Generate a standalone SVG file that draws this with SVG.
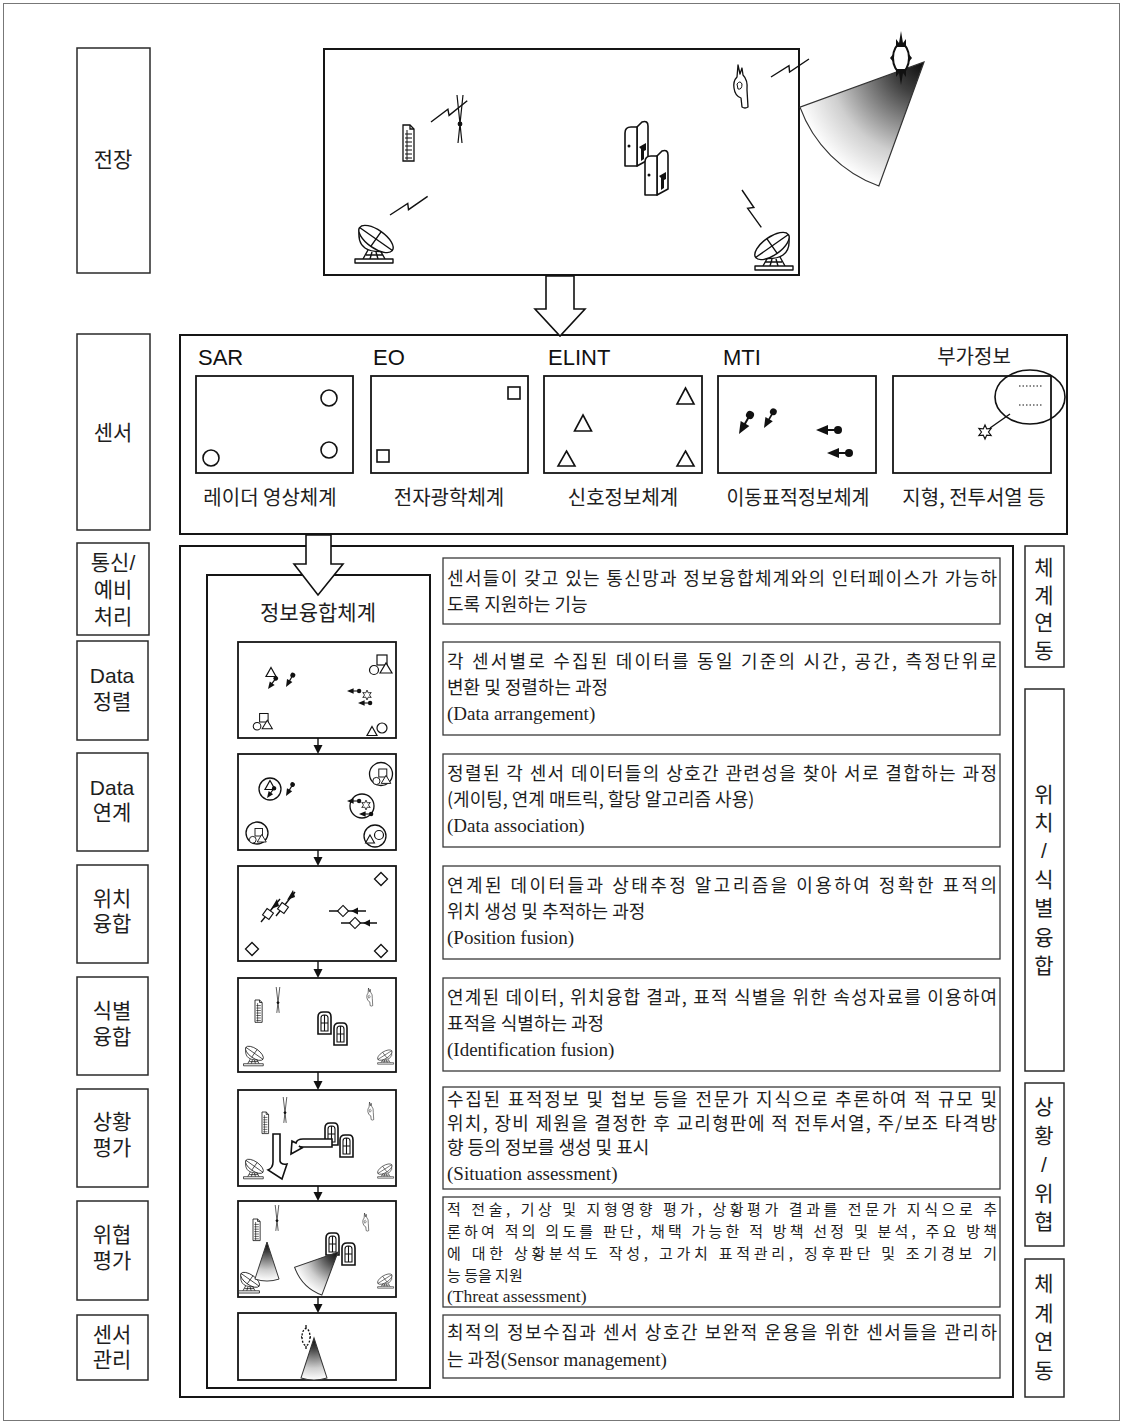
<svg xmlns="http://www.w3.org/2000/svg" width="1123" height="1425" viewBox="0 0 1123 1425">
<style>
  .page{fill:#fff;stroke:#777;stroke-width:1}
  .frame{fill:none;stroke:#151515;stroke-width:2}
  .box{fill:#fff;stroke:#151515;stroke-width:1.8}
  .tbox{fill:#fff;stroke:#3a3a3a;stroke-width:1.3}
  .side{fill:#fff;stroke:#2a2a2a;stroke-width:1.5}
  .lbl{font-family:"Liberation Sans","Noto Sans CJK KR",sans-serif;font-size:21px;fill:#1e1e1e;text-anchor:middle}
  .sn{font-family:"Liberation Sans","Noto Sans CJK KR",sans-serif;font-size:22px;fill:#111}
  .cap{font-family:"Noto Sans CJK KR",sans-serif;font-size:20px;fill:#1e1e1e;text-anchor:middle}
  .kr{font-family:"Noto Sans CJK KR",sans-serif;font-size:18px;fill:#1e1e1e}
  .kr.tight{font-size:15px}
  .en{font-family:"Liberation Serif",serif;font-size:19px;fill:#1e1e1e}
  .en.tight{font-size:17.5px}
  .ln{fill:none;stroke:#111;stroke-width:1.4;stroke-linejoin:round}
  .hollow{fill:#fff;stroke:#111;stroke-width:1.6;stroke-linejoin:miter}
  .blk{fill:#111;stroke:none}
</style>
<defs>
  <radialGradient id="fanGrad" gradientUnits="userSpaceOnUse" cx="0" cy="0" r="100">
    <stop offset="0" stop-color="#0a0a0a"/>
    <stop offset="0.25" stop-color="#404040"/>
    <stop offset="0.72" stop-color="#cfcfcf"/>
    <stop offset="1" stop-color="#fff"/>
  </radialGradient>
  <!-- beam fans, apex at origin, opening towards +y, radius 100 -->
  <path id="fanWide" d="M0,0 L42.26,90.63 A100,100 0 0 1 -42.26,90.63 Z"/>
  <path id="fanNarrow" d="M0,0 L30.9,95.1 A100,100 0 0 1 -30.9,95.1 Z"/>
  <!-- zigzag radio link -->
  <path id="bolt" d="M0,0 L21,-3 L19,3 L42,-1" fill="none" stroke="#111" stroke-width="1.4"/>
  <!-- document / report -->
  <g id="doc" fill="#fff" stroke="#111" stroke-width="1.3">
    <path d="M0,0 H7 L11,4 V36 H0 Z"/>
    <path d="M7,0 V4 H11" fill="none"/>
    <path d="M2,9 H9 M2,13 H9 M2,17 H9 M2,21 H9 M2,25 H9 M2,29 H9 M2,33 H9 M4,5 V35" fill="none" stroke-width="1"/>
  </g>
  <!-- antenna mast -->
  <g id="mast" fill="none" stroke="#111" stroke-width="1.2">
    <path d="M-3,0 L2,48 M3,0 L-2,48"/>
    <circle cx="0" cy="29" r="1.8" fill="#111"/>
  </g>
  <!-- shelter -->
  <g id="shelter" stroke="#111" stroke-width="1.6" stroke-linejoin="round">
    <path d="M12,46 V7 L17,2 Q23,0 23,6 V40 Z" fill="#fff"/>
    <path d="M0,46 V13 Q0,7 6,7 H12 V46 Z" fill="#fff"/>
    <circle cx="4" cy="26" r="1.5" class="blk"/>
    <path d="M14,27 L21,23 V30 L19,31 V39 L16,41 V29 Z" class="blk"/>
  </g>
  <!-- shelter, small view -->
  <g id="win" stroke="#111" stroke-width="1.6" fill="#fff">
    <path d="M0,22 V5 Q0,0 5,0 H9 Q13,0 13,5 V22 Z"/>
    <path d="M3,19 V6 Q3,3 6,3 H7 Q10,3 10,6 V19 Z M6.5,3 V19 M3,11 H10" fill="none" stroke-width="1.1"/>
  </g>
  <!-- observer -->
  <g id="hand" fill="#fff" stroke="#111" stroke-width="1.3" stroke-linejoin="round">
    <path d="M6,0 L8,9 L10,3 L11,10 Q16,15 15,25 L16,42 Q13,44 10,42 L9,33 Q3,31 2,23 Q1,16 5,12 Z"/>
    <path d="M5,19 Q8,15 10,19 Q10,25 6,24 Z" fill="none" stroke-width="1"/>
  </g>
  <!-- ground station dish, facing upper right -->
  <g id="dish" fill="none" stroke="#111" stroke-width="1.4" stroke-linejoin="round">
    <path d="M14,27 L9,36 M18,29 L16,36 M22,29 L24,36 M26,27 L31,36 M12,32 H29"/>
    <path d="M5.6,4.5 Q0,34 38.4,27.5" fill="#fff"/>
    <ellipse cx="22" cy="16" rx="20" ry="9" transform="rotate(35 22 16)" fill="#fff"/>
    <path d="M5.6,4.5 L38.4,27.5 M16.8,23.4 L27.2,8.6"/>
    <rect x="1" y="36" width="38" height="4" fill="#fff"/>
  </g>
  <!-- satellite -->
  <g id="sat">
    <ellipse cx="0" cy="0" rx="8" ry="14" fill="#fff" stroke="#111" stroke-width="2"/>
    <path d="M-5,-11 L-5,-19 L-2,-15 L0,-27 L2,-15 L5,-19 L5,-11 Z" class="blk"/>
    <path d="M-5,11 L-5,19 L-2,15 L0,27 L2,15 L5,19 L5,11 Z" class="blk"/>
    <path d="M-7,-5 L-11,0 L-7,5 Z M7,-5 L11,0 L7,5 Z" class="blk"/>
  </g>
  <!-- track symbol: heading arrow with target dot -->
  <g id="tgt">
    <path d="M0,0 L12,-5 L12,5 Z" class="blk"/>
    <path d="M11,0 H19" stroke="#111" stroke-width="2"/>
    <circle cx="22" cy="0" r="4" class="blk"/>
  </g>
  <path id="star" d="M0,-7 L1.75,-3.03 L6.06,-3.5 L3.5,0 L6.06,3.5 L1.75,3.03 L0,7 L-1.75,3.03 L-6.06,3.5 L-3.5,0 L-6.06,-3.5 L-1.75,-3.03 Z" fill="#fff" stroke="#111" stroke-width="1.2"/>
  <path id="tri" d="M0,-4.5 L5,4.5 L-5,4.5 Z" fill="#fff" stroke="#111" stroke-width="1.2"/>
  <path id="dia" d="M0,-6.5 L6.5,0 L0,6.5 L-6.5,0 Z" fill="#fff" stroke="#111" stroke-width="1.3"/>
  <!-- fused plot: square, circle, triangle -->
  <g id="combo" fill="#fff" stroke="#111" stroke-width="1.2">
    <rect x="-4" y="-10" width="10" height="10"/>
    <circle cx="-7" cy="5" r="4.5"/>
    <path d="M-1,8 L5,-2 L11,8 Z"/>
  </g>
</defs>

<rect class="page" x="3.5" y="3.5" width="1116" height="1417"/>

<!-- stage labels, left column -->
<g id="stage-labels">
  <g id="lbl-battlefield"><rect class="side" x="77" y="48" width="73" height="225"/><text class="lbl" x="113" y="167">전장</text></g>
  <g id="lbl-sensor"><rect class="side" x="77" y="334" width="73" height="196"/><text class="lbl" x="113" y="440">센서</text></g>
  <g id="lbl-comm"><rect class="side" x="77" y="543" width="72" height="92"/><text class="lbl" x="113" y="570">통신/</text><text class="lbl" x="113" y="597">예비</text><text class="lbl" x="113" y="624">처리</text></g>
  <g id="lbl-align"><rect class="side" x="77" y="641" width="71" height="99"/><text class="lbl" x="112" y="683">Data</text><text class="lbl" x="112" y="709">정렬</text></g>
  <g id="lbl-assoc"><rect class="side" x="77" y="753" width="71" height="98"/><text class="lbl" x="112" y="795">Data</text><text class="lbl" x="112" y="820">연계</text></g>
  <g id="lbl-pos"><rect class="side" x="77" y="865" width="71" height="98"/><text class="lbl" x="112" y="906">위치</text><text class="lbl" x="112" y="931">융합</text></g>
  <g id="lbl-ident"><rect class="side" x="77" y="977" width="71" height="98"/><text class="lbl" x="112" y="1018">식별</text><text class="lbl" x="112" y="1044">융합</text></g>
  <g id="lbl-situ"><rect class="side" x="77" y="1089" width="71" height="98"/><text class="lbl" x="112" y="1129">상황</text><text class="lbl" x="112" y="1155">평가</text></g>
  <g id="lbl-threat"><rect class="side" x="77" y="1201" width="71" height="99"/><text class="lbl" x="112" y="1242">위협</text><text class="lbl" x="112" y="1268">평가</text></g>
  <g id="lbl-sensmgmt"><rect class="side" x="77" y="1315" width="71" height="65"/><text class="lbl" x="112" y="1342">센서</text><text class="lbl" x="112" y="1367">관리</text></g>
</g>

<!-- battlefield scene -->
<g id="battlefield">
  <rect class="frame" x="324" y="49" width="475" height="226" fill="#fff"/>
  <use href="#doc" x="403" y="125"/>
  <use href="#mast" x="460" y="95"/>
  <use href="#bolt" transform="translate(431,122) rotate(-29)"/>
  <use href="#shelter" x="625" y="120"/>
  <use href="#shelter" x="645" y="149"/>
  <use href="#hand" x="732" y="65"/>
  <use href="#bolt" transform="translate(771,77) rotate(-24)"/>
  <use href="#bolt" transform="translate(390,215) rotate(-25)"/>
  <use href="#bolt" transform="translate(742,190) rotate(64)"/>
  <use href="#dish" transform="translate(354,223)"/>
  <use href="#dish" transform="translate(794,230) scale(-1,1)"/>
  <use href="#fanWide" transform="translate(924,62) rotate(45) scale(1.32)" fill="url(#fanGrad)" stroke="#333" stroke-width="0.9"/>
  <use href="#sat" x="901" y="58"/>
</g>

<!-- sensor systems -->
<g id="sensors">
  <rect class="frame" x="180" y="335" width="887" height="199"/>
  <g id="sensor-sar">
    <text class="sn" x="198" y="365">SAR</text>
    <rect class="box" x="196" y="376" width="157" height="97"/>
    <g fill="none" stroke="#111" stroke-width="1.6"><circle cx="329" cy="398" r="8"/><circle cx="329" cy="450" r="8"/><circle cx="211" cy="458" r="8"/></g>
    <text class="cap" x="270" y="505">레이더 영상체계</text>
  </g>
  <g id="sensor-eo">
    <text class="sn" x="373" y="365">EO</text>
    <rect class="box" x="371" y="376" width="157" height="97"/>
    <g fill="none" stroke="#111" stroke-width="1.6"><rect x="508" y="387" width="12" height="12"/><rect x="377" y="450" width="12" height="12"/></g>
    <text class="cap" x="449" y="505">전자광학체계</text>
  </g>
  <g id="sensor-elint">
    <text class="sn" x="548" y="365">ELINT</text>
    <rect class="box" x="544" y="376" width="158" height="97"/>
    <g fill="none" stroke="#111" stroke-width="1.6"><path d="M685.5,388 L694,404 L677,404 Z"/><path d="M583,415 L591.5,431 L574.5,431 Z"/><path d="M566.5,451 L575,466 L558,466 Z"/><path d="M685.5,451 L694,466 L677,466 Z"/></g>
    <text class="cap" x="623" y="505">신호정보체계</text>
  </g>
  <g id="sensor-mti">
    <text class="sn" x="723" y="365">MTI</text>
    <rect class="box" x="718" y="376" width="158" height="97"/>
    <use href="#tgt" transform="translate(739,434) rotate(-60)"/>
    <use href="#tgt" transform="translate(764,428) rotate(-60) scale(0.85)"/>
    <use href="#tgt" transform="translate(816,430)"/>
    <use href="#tgt" transform="translate(827,453)"/>
    <text class="cap" x="798" y="505" textLength="143" lengthAdjust="spacingAndGlyphs">이동표적정보체계</text>
  </g>
  <g id="sensor-extra">
    <text class="cap" x="974" y="364">부가정보</text>
    <rect class="box" x="893" y="376" width="158" height="97"/>
    <ellipse cx="1030" cy="397" rx="35" ry="27" fill="none" stroke="#111" stroke-width="1.6"/>
    <path d="M1019,386 H1043 M1019,405 H1043" stroke="#111" stroke-width="1.2" stroke-dasharray="1.5 2"/>
    <path d="M990,428 L1010,414" stroke="#111" stroke-width="1.4"/>
    <use href="#star" transform="translate(985,432)"/>
    <text class="cap" x="974" y="505">지형, 전투서열 등</text>
  </g>
</g>

<!-- fusion system column -->
<g id="fusion">
  <rect class="frame" x="180" y="546" width="833" height="851"/>
  <rect class="frame" x="207" y="575" width="223" height="813" stroke-width="1.8"/>
  <text class="lbl" x="318" y="620">정보융합체계</text>

  <g id="panel-align">
    <rect class="box" x="238" y="642" width="158" height="96"/>
    <use href="#tri" x="271" y="672"/>
    <use href="#tgt" transform="translate(268,689) rotate(-54) scale(0.6)"/>
    <use href="#tgt" transform="translate(286,687) rotate(-60) scale(0.62)"/>
    <use href="#combo" x="381" y="665"/>
    <use href="#star" transform="translate(367,695) scale(0.7)"/>
    <use href="#tgt" transform="translate(347,691) scale(0.55)"/>
    <use href="#tgt" transform="translate(358,703) scale(0.55)"/>
    <use href="#combo" transform="translate(263,722) scale(0.85)"/>
    <use href="#tri" x="372" y="731"/>
    <circle cx="382" cy="728" r="5" fill="#fff" stroke="#111" stroke-width="1.2"/>
  </g>

  <g id="panel-assoc">
    <rect class="box" x="238" y="754" width="158" height="96"/>
    <g fill="none" stroke="#111" stroke-width="1.3">
      <circle cx="270" cy="789" r="11"/><circle cx="381" cy="774" r="11.5"/><circle cx="362" cy="806" r="12"/><circle cx="257" cy="833" r="11"/><circle cx="375" cy="836" r="11"/>
    </g>
    <use href="#tri" x="270" y="785"/>
    <use href="#tgt" transform="translate(267,798) rotate(-54) scale(0.55)"/>
    <use href="#tgt" transform="translate(286,796) rotate(-60) scale(0.6)"/>
    <use href="#combo" transform="translate(382,777) scale(0.8)"/>
    <use href="#star" transform="translate(366,805) scale(0.7)"/>
    <use href="#tgt" transform="translate(347,801) scale(0.55)"/>
    <use href="#tgt" transform="translate(359,814) scale(0.55)"/>
    <use href="#combo" transform="translate(258,836) scale(0.75)"/>
    <use href="#tri" transform="translate(370,839) scale(0.9)"/>
    <circle cx="379" cy="835" r="4.5" fill="#fff" stroke="#111" stroke-width="1.2"/>
  </g>

  <g id="panel-position">
    <rect class="box" x="238" y="866" width="158" height="95"/>
    <use href="#dia" x="381" y="879"/>
    <use href="#dia" x="252" y="949"/>
    <use href="#dia" x="381" y="951"/>
    <path d="M261,922 L280,899 M276,916 L295,892" class="ln" stroke-width="1.1"/>
    <use href="#dia" transform="translate(268,914) rotate(-10) scale(0.85)"/>
    <use href="#dia" transform="translate(283,908) rotate(-10) scale(0.85)"/>
    <path d="M271,909 L277,899 L279,906 Z M287,900 L293,890 L295,897 Z" class="blk"/>
    <path d="M329,911 H366 M341,923 H377" class="ln" stroke-width="1.1"/>
    <use href="#dia" transform="translate(343,911) scale(0.85)"/>
    <use href="#dia" transform="translate(355,923) scale(0.85)"/>
    <path d="M351,911 L358,907.5 L358,914.5 Z M363,923 L370,919.5 L370,926.5 Z" class="blk"/>
  </g>

  <g id="panel-ident">
    <rect class="box" x="238" y="978" width="158" height="94"/>
    <use href="#doc" transform="translate(255,1000) scale(0.65,0.62)"/>
    <use href="#mast" transform="translate(278,987) scale(0.6,0.54)"/>
    <use href="#hand" transform="translate(366,988) scale(0.42)"/>
    <use href="#win" x="318" y="1012"/>
    <use href="#win" x="334" y="1023"/>
    <use href="#dish" transform="translate(243,1045) scale(0.52)"/>
    <use href="#dish" transform="translate(394,1049) scale(-0.42,0.38)"/>
  </g>

  <g id="panel-situation">
    <rect class="box" x="238" y="1090" width="158" height="96"/>
    <use href="#doc" transform="translate(262,1112) scale(0.6,0.6)"/>
    <use href="#mast" transform="translate(285,1097) scale(0.6,0.54)"/>
    <use href="#hand" transform="translate(367,1102) scale(0.42)"/>
    <use href="#win" x="325" y="1123"/>
    <use href="#win" x="340" y="1135"/>
    <use href="#dish" transform="translate(243,1158) scale(0.52)"/>
    <use href="#dish" transform="translate(394,1163) scale(-0.42,0.38)"/>
    <path class="hollow" stroke-width="1.2" d="M273,1134 H280 V1161 Q281,1165 287,1164 L282,1179 L268,1170 Q273,1168 273,1162 Z"/>
    <path class="hollow" stroke-width="1.2" d="M332,1139 L303,1139 Q297,1139 296,1143 L292,1141 L291,1154 L302,1148 L299,1146 Q300,1147 303,1147 L332,1147 Z"/>
  </g>

  <g id="panel-threat">
    <rect class="box" x="238" y="1201" width="158" height="96"/>
    <use href="#doc" transform="translate(253,1219) scale(0.65,0.6)"/>
    <use href="#mast" transform="translate(277,1205) scale(0.6,0.54)"/>
    <use href="#hand" transform="translate(362,1213) scale(0.42)"/>
    <use href="#win" x="326" y="1233"/>
    <use href="#win" x="342" y="1243"/>
    <use href="#dish" transform="translate(238,1271) scale(0.55)"/>
    <use href="#dish" transform="translate(394,1273) scale(-0.42,0.38)"/>
    <use href="#fanNarrow" transform="translate(267,1242) scale(0.39)" fill="url(#fanGrad)" stroke="#333" stroke-width="2.5"/>
    <use href="#fanWide" transform="translate(338,1252) rotate(45.6) scale(0.46)" fill="url(#fanGrad)" stroke="#333" stroke-width="2.2"/>
  </g>

  <g id="panel-sensmgmt">
    <rect class="box" x="238" y="1313" width="158" height="67"/>
    <ellipse cx="306" cy="1337" rx="4" ry="8.5" fill="none" stroke="#111" stroke-width="1.3" stroke-dasharray="2 1.6"/>
    <path d="M306,1325 V1328 M306,1346 V1349 M301,1337 H302 M310,1337 H311" stroke="#111" stroke-width="1.3"/>
    <use href="#fanNarrow" transform="translate(314,1338) scale(0.42)" fill="url(#fanGrad)" stroke="#333" stroke-width="2.4"/>
  </g>
</g>

<!-- process descriptions -->
<g id="descriptions">
  <g id="desc-comm">
    <rect class="tbox" x="443" y="558" width="557" height="66"/>
    <text class="kr" x="447" y="585" textLength="550" lengthAdjust="spacing">센서들이 갖고 있는 통신망과 정보융합체계와의 인터페이스가 가능하</text>
    <text class="kr" x="447" y="611">도록 지원하는 기능</text>
  </g>
  <g id="desc-align">
    <rect class="tbox" x="443" y="642" width="557" height="93"/>
    <text class="kr" x="447" y="668" textLength="550" lengthAdjust="spacing">각 센서별로 수집된 데이터를 동일 기준의 시간, 공간, 측정단위로</text>
    <text class="kr" x="447" y="694">변환 및 정렬하는 과정</text>
    <text class="en" x="447" y="720">(Data arrangement)</text>
  </g>
  <g id="desc-assoc">
    <rect class="tbox" x="443" y="754" width="557" height="93"/>
    <text class="kr" x="447" y="780" textLength="550" lengthAdjust="spacing">정렬된 각 센서 데이터들의 상호간 관련성을 찾아 서로 결합하는 과정</text>
    <text class="kr" x="447" y="806">(게이팅, 연계 매트릭, 할당 알고리즘 사용)</text>
    <text class="en" x="447" y="832">(Data association)</text>
  </g>
  <g id="desc-pos">
    <rect class="tbox" x="443" y="866" width="557" height="93"/>
    <text class="kr" x="447" y="892" textLength="550" lengthAdjust="spacing">연계된 데이터들과 상태추정 알고리즘을 이용하여 정확한 표적의</text>
    <text class="kr" x="447" y="918">위치 생성 및 추적하는 과정</text>
    <text class="en" x="447" y="944">(Position fusion)</text>
  </g>
  <g id="desc-ident">
    <rect class="tbox" x="443" y="978" width="557" height="93"/>
    <text class="kr" x="447" y="1004" textLength="550" lengthAdjust="spacing">연계된 데이터, 위치융합 결과, 표적 식별을 위한 속성자료를 이용하여</text>
    <text class="kr" x="447" y="1030">표적을 식별하는 과정</text>
    <text class="en" x="447" y="1056">(Identification fusion)</text>
  </g>
  <g id="desc-situ">
    <rect class="tbox" x="443" y="1087" width="557" height="102"/>
    <text class="kr" x="447" y="1106" textLength="550" lengthAdjust="spacing">수집된 표적정보 및 첩보 등을 전문가 지식으로 추론하여 적 규모 및</text>
    <text class="kr" x="447" y="1130" textLength="550" lengthAdjust="spacing">위치, 장비 제원을 결정한 후 교리형판에 적 전투서열, 주/보조 타격방</text>
    <text class="kr" x="447" y="1154">향 등의 정보를 생성 및 표시</text>
    <text class="en" x="447" y="1180">(Situation assessment)</text>
  </g>
  <g id="desc-threat">
    <rect class="tbox" x="443" y="1197" width="557" height="110"/>
    <text class="kr tight" x="447" y="1215" textLength="550" lengthAdjust="spacing">적 전술, 기상 및 지형영향 평가, 상황평가 결과를 전문가 지식으로 추</text>
    <text class="kr tight" x="447" y="1237" textLength="550" lengthAdjust="spacing">론하여 적의 의도를 판단, 채택 가능한 적 방책 선정 및 분석, 주요 방책</text>
    <text class="kr tight" x="447" y="1259" textLength="550" lengthAdjust="spacing">에 대한 상황분석도 작성, 고가치 표적관리, 징후판단 및 조기경보 기</text>
    <text class="kr tight" x="447" y="1281">능 등을 지원</text>
    <text class="en tight" x="447" y="1301.5">(Threat assessment)</text>
  </g>
  <g id="desc-sensmgmt">
    <rect class="tbox" x="443" y="1315" width="557" height="63"/>
    <text class="kr" x="447" y="1339" textLength="550" lengthAdjust="spacing">최적의 정보수집과 센서 상호간 보완적 운용을 위한 센서들을 관리하</text>
    <text class="kr" x="447" y="1366">는 과정<tspan class="en">(Sensor management)</tspan></text>
  </g>
</g>

<!-- level labels, right column -->
<g id="level-labels">
  <g id="lvl-link-top"><rect class="side" x="1025" y="546" width="39" height="121"/>
    <text class="lbl" x="1044" y="575">체</text><text class="lbl" x="1044" y="603">계</text><text class="lbl" x="1044" y="630">연</text><text class="lbl" x="1044" y="658">동</text></g>
  <g id="lvl-fusion"><rect class="side" x="1025" y="689" width="39" height="382"/>
    <text class="lbl" x="1044" y="802">위</text><text class="lbl" x="1044" y="830">치</text><text class="lbl" x="1044" y="858">/</text><text class="lbl" x="1044" y="887">식</text><text class="lbl" x="1044" y="915">별</text><text class="lbl" x="1044" y="945">융</text><text class="lbl" x="1044" y="973">합</text></g>
  <g id="lvl-assess"><rect class="side" x="1025" y="1083" width="39" height="163"/>
    <text class="lbl" x="1044" y="1114">상</text><text class="lbl" x="1044" y="1143">황</text><text class="lbl" x="1044" y="1172">/</text><text class="lbl" x="1044" y="1201">위</text><text class="lbl" x="1044" y="1229">협</text></g>
  <g id="lvl-link-bottom"><rect class="side" x="1025" y="1259" width="39" height="138"/>
    <text class="lbl" x="1044" y="1291">체</text><text class="lbl" x="1044" y="1321">계</text><text class="lbl" x="1044" y="1349">연</text><text class="lbl" x="1044" y="1378">동</text></g>
</g>

<!-- flow arrows -->
<g id="connectors">
  <path class="hollow" d="M546,276 L574,276 L574,309 L585,309 L560,336 L535,309 L546,309 Z"/>
  <path class="hollow" d="M306,535 L331,535 L331,564 L343,564 L318,595 L294,564 L306,564 Z"/>
  <g stroke="#111" stroke-width="1.4" fill="#111">
    <path d="M318,738 V752"/><path d="M313.5,745 L322.5,745 L318,754 Z" stroke="none"/>
    <path d="M318,850 V864"/><path d="M313.5,857 L322.5,857 L318,866 Z" stroke="none"/>
    <path d="M318,961 V976"/><path d="M313.5,969 L322.5,969 L318,978 Z" stroke="none"/>
    <path d="M318,1072 V1088"/><path d="M313.5,1081 L322.5,1081 L318,1090 Z" stroke="none"/>
    <path d="M318,1186 V1199"/><path d="M313.5,1192 L322.5,1192 L318,1201 Z" stroke="none"/>
    <path d="M318,1297 V1311"/><path d="M313.5,1304 L322.5,1304 L318,1313 Z" stroke="none"/>
  </g>
</g>
</svg>
